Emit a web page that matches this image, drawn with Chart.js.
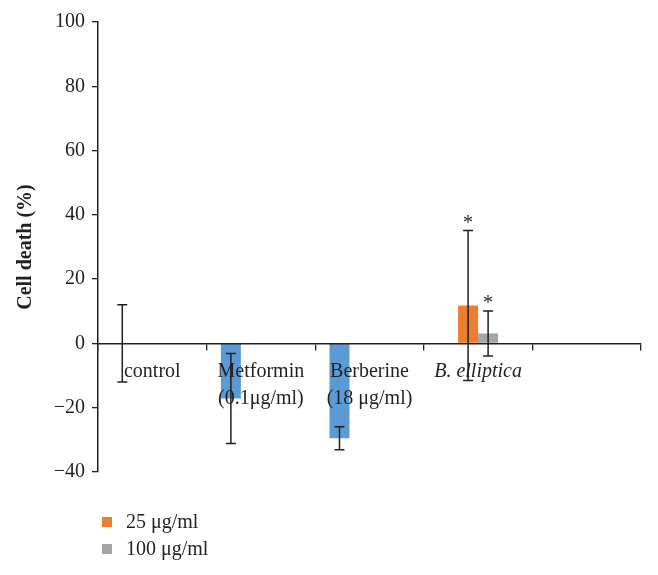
<!DOCTYPE html>
<html>
<head>
<meta charset="utf-8">
<script src="https://cdn.jsdelivr.net/npm/chart.js@4"></script>
<style>
html, body { margin: 0; padding: 0; background: #fff; }
#wrap { position: relative; width: 658px; height: 575px; }
#legend { position: absolute; left: 102px; top: 508px; font-family: "Liberation Serif", "DejaVu Serif", serif; font-size: 20px; color: #231f20; }
.item { display: flex; align-items: center; height: 27px; }
.sw { width: 10px; height: 10px; margin-right: 14px; }
</style>
</head>
<body>
<div id="wrap">
  <canvas id="cellChart" width="658" height="575"></canvas>
  <div id="legend"></div>
</div>
<script>
// data
const categories = ['control', ['Metformin', '(0.1\u03bcg/ml)'], ['Berberine', '(18 \u03bcg/ml)'], 'B. elliptica', ''];
const drugValues = [0, -17.1, -29.5, null, null];
const drugErrors = [12, 14, 3.6, null, null];
const dose25Values = [null, null, null, 11.8, null];
const dose25Errors = [null, null, null, 23.3, null];
const dose100Values = [null, null, null, 3.1, null];
const dose100Errors = [null, null, null, 7, null];
const emptyValues = [null, null, null, null, null];
const dose25Stars = [null, null, null, '*', null];
const dose100Stars = [null, null, null, '*', null];
const yTicks = [-40, -20, 0, 20, 40, 60, 80, 100];

const ink = '#231f20';
const serif = '"Liberation Serif", "DejaVu Serif", serif';

// error bars + asterisks, drawn last so they sit over the axis labels
const errorBars = {
    id: 'errorBars',
    afterDraw(chart) {
        const ctx = chart.ctx;
        const y = chart.scales.y;
        ctx.save();
        ctx.strokeStyle = ink;
        ctx.lineWidth = 1.5;
        ctx.fillStyle = ink;
        chart.data.datasets.forEach((ds, i) => {
            if (!ds.errors) return;
            const meta = chart.getDatasetMeta(i);
            ds.errors.forEach((e, j) => {
                if (e == null || ds.data[j] == null) return;
                const x = meta.data[j].x;
                const top = y.getPixelForValue(ds.data[j] + e);
                const bot = y.getPixelForValue(ds.data[j] - e);
                ctx.beginPath();
                ctx.moveTo(x, top); ctx.lineTo(x, bot);
                ctx.moveTo(x - 5, top); ctx.lineTo(x + 5, top);
                ctx.moveTo(x - 5, bot); ctx.lineTo(x + 5, bot);
                ctx.stroke();
                if (ds.stars && ds.stars[j]) {
                    ctx.font = '20px ' + serif;
                    ctx.textAlign = 'center';
                    ctx.textBaseline = 'alphabetic';
                    ctx.fillText(ds.stars[j], x, top - 2);
                }
            });
        });
        // y axis title
        const area = chart.chartArea;
        ctx.translate(area.left - 72, (area.top + area.bottom) / 2);
        ctx.rotate(-Math.PI / 2);
        ctx.font = 'bold 20px ' + serif;
        ctx.textAlign = 'center';
        ctx.textBaseline = 'middle';
        ctx.fillText('Cell death (%)', 0, 0);
        ctx.restore();
    }
};

const ctx = document.getElementById('cellChart');
const cellChart = new Chart(ctx, {
    type: 'bar',
    data: {
        labels: categories,
        datasets: [
            { label: 'drug', data: drugValues, errors: drugErrors, backgroundColor: '#5b9bd5' },
            { label: '25 \u03bcg/ml', data: dose25Values, errors: dose25Errors, stars: dose25Stars, backgroundColor: '#ed7d31' },
            { label: '100 \u03bcg/ml', data: dose100Values, errors: dose100Errors, stars: dose100Stars, backgroundColor: '#a5a5a5' },
            { label: '', data: emptyValues, backgroundColor: '#ffc000' }
        ]
    },
    options: {
        responsive: false,
        animation: false,
        categoryPercentage: 0.737,
        barPercentage: 1,
        layout: { padding: { left: 0, top: 22, right: 17, bottom: 103 } },
        plugins: {
            legend: { display: false },
            tooltip: { enabled: false }
        },
        scales: {
            y: {
                min: -40,
                max: 100,
                afterFit: s => { s.width = 98; },
                afterBuildTicks: s => { s.ticks = yTicks.map(v => ({ value: v })); },
                ticks: {
                    color: ink,
                    padding: 7,
                    font: { family: serif, size: 20 },
                    callback: v => v < 0 ? '\u2212' + Math.abs(v) : v
                },
                grid: { drawOnChartArea: false, color: ink, tickLength: 6, lineWidth: 1.3 },
                border: { color: ink, width: 1.5 }
            },
            x: {
                position: { y: 0 },
                ticks: {
                    z: 1,
                    color: ink,
                    padding: 9,
                    maxRotation: 0,
                    autoSkip: false,
                    font: c => ({ family: serif, size: 20, lineHeight: 1.35, style: c.index === 3 ? 'italic' : 'normal' })
                },
                grid: { drawOnChartArea: false, color: ink, tickLength: 6, lineWidth: 1.3 },
                border: { color: ink, width: 1.5, z: 1 }
            }
        }
    },
    plugins: [errorBars]
});

// legend for the two dose series only
const legend = document.getElementById('legend');
cellChart.data.datasets.slice(1, 3).forEach(ds => {
    const item = document.createElement('div');
    item.className = 'item';
    const sw = document.createElement('span');
    sw.className = 'sw';
    sw.style.background = ds.backgroundColor;
    const txt = document.createElement('span');
    txt.textContent = ds.label;
    item.appendChild(sw);
    item.appendChild(txt);
    legend.appendChild(item);
});
</script>
</body>
</html>
